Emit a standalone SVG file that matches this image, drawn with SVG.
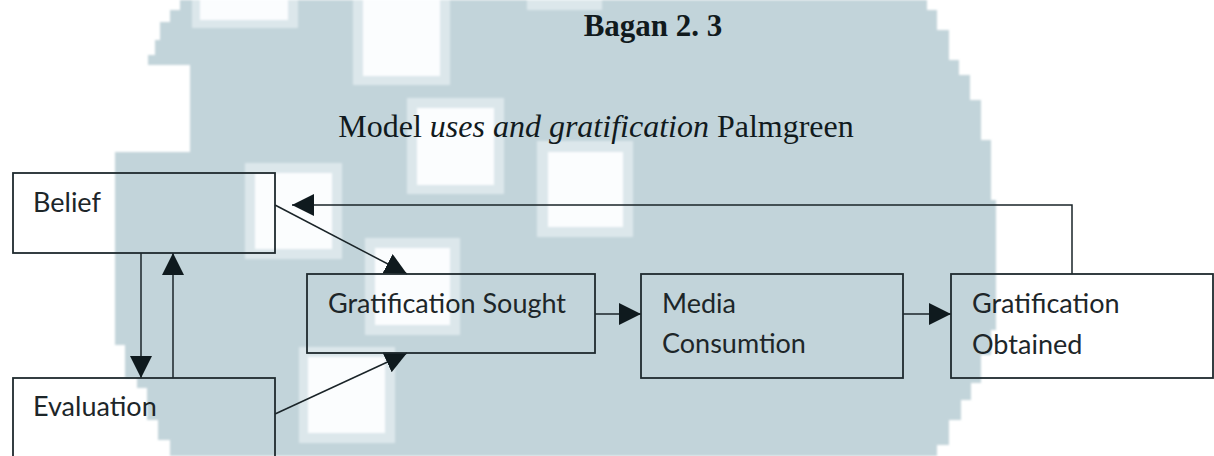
<svg xmlns="http://www.w3.org/2000/svg" width="1214" height="456" viewBox="0 0 1214 456">
<style>
.box{fill:none;stroke:#1f2a2e;stroke-width:1.8}
.lbl{font-family:Lato,"Open Sans",sans-serif;font-size:27px;fill:#1d2629}
.con{fill:none;stroke:#1a2428;stroke-width:1.5}
.band{fill:#dce7eb}
.sq{fill:#fbfdfe}
</style>
<defs>
<marker id="ah" markerUnits="userSpaceOnUse" markerWidth="22" markerHeight="22" refX="20" refY="10" orient="auto" viewBox="0 0 20 20">
<path d="M0,0 L20,10 L0,20 Z" fill="#0f1a1e"/>
</marker>
<filter id="soft" x="-5%" y="-5%" width="110%" height="110%">
<feGaussianBlur stdDeviation="1.2"/>
</filter>
</defs>
<rect width="1214" height="456" fill="#ffffff"/>
<g id="watermark" filter="url(#soft)">
<path fill="#c2d4da" d="M180,0 L927,0 L927,10 L937,10 L937,30 L949,30 L949,60 L959,60 L959,75 L970,75 L970,100 L981,100 L981,140 L991,140 L991,200 L996,200 L996,330 L991,330 L991,355 L981,355 L981,383 L971,383 L971,400 L961,400 L961,420 L949,420 L949,445 L937,445 L937,456 L170,456 L170,440 L158,440 L158,420 L147,420 L147,388 L137,388 L137,378 L125,378 L125,345 L115,345 L115,152 L190,152 L190,65 L148,65 L148,55 L155,55 L155,40 L160,40 L160,22 L170,22 L170,10 L180,10 Z"/>
<rect class="band" x="192" y="0" width="106" height="28"/>
<rect class="sq" x="200" y="0" width="88" height="20"/>
<rect class="band" x="353" y="0" width="97" height="85"/>
<rect class="sq" x="363" y="0" width="77" height="76"/>
<rect class="band" x="407" y="98" width="97" height="96"/>
<rect class="sq" x="417" y="108" width="77" height="77"/>
<rect class="band" x="537" y="141" width="96" height="96"/>
<rect class="sq" x="548" y="152" width="75" height="75"/>
<rect class="band" x="527" y="0" width="75" height="10"/>
<rect class="band" x="365" y="238" width="95" height="97"/>
<rect class="sq" x="375" y="248" width="75" height="77"/>
<rect class="band" x="299" y="347" width="96" height="96"/>
<rect class="sq" x="308" y="357" width="77" height="76"/>
<rect class="band" x="245" y="163" width="97" height="96"/>
<rect class="sq" x="255" y="173" width="77" height="76"/>
</g>
<g id="title">
<text x="653" y="36" text-anchor="middle" font-family="'Liberation Serif',serif" font-weight="bold" font-size="31" fill="#111a1d">Bagan 2. 3</text>
<text x="596" y="137" text-anchor="middle" font-family="'Liberation Serif',serif" font-size="32" fill="#111a1d">Model <tspan font-style="italic">uses and gratification</tspan> Palmgreen</text>
</g>
<g id="connectors">
<line class="con" x1="275" y1="205" x2="407" y2="274" marker-end="url(#ah)"/>
<line class="con" x1="275" y1="414" x2="407" y2="353" marker-end="url(#ah)"/>
<line class="con" x1="141" y1="253" x2="141" y2="378" marker-end="url(#ah)"/>
<line class="con" x1="173" y1="378" x2="173" y2="253" marker-end="url(#ah)"/>
<line class="con" x1="595" y1="314" x2="641" y2="314" marker-end="url(#ah)"/>
<line class="con" x1="903" y1="314" x2="951" y2="314" marker-end="url(#ah)"/>
<polyline class="con" points="1072,274 1072,205 292,205" marker-end="url(#ah)"/>
</g>
<g id="belief">
<rect class="box" x="13" y="173" width="262" height="80"/>
<text class="lbl" x="33" y="212" fill="#333">Belief</text>
</g>
<g id="evaluation">
<rect class="box" x="13" y="378" width="262" height="100"/>
<text class="lbl" x="33" y="416">Evaluation</text>
</g>
<g id="gratification-sought">
<rect class="box" x="307" y="274" width="288" height="79"/>
<text class="lbl" x="328" y="313">Gratification Sought</text>
</g>
<g id="media-consumtion">
<rect class="box" x="641" y="274" width="262" height="104"/>
<text class="lbl" x="662" y="313">Media</text>
<text class="lbl" x="662" y="353">Consumtion</text>
</g>
<g id="gratification-obtained">
<rect class="box" x="951" y="274" width="262" height="104"/>
<text class="lbl" x="972" y="313">Gratification</text>
<text class="lbl" x="972" y="354">Obtained</text>
</g>
</svg>
